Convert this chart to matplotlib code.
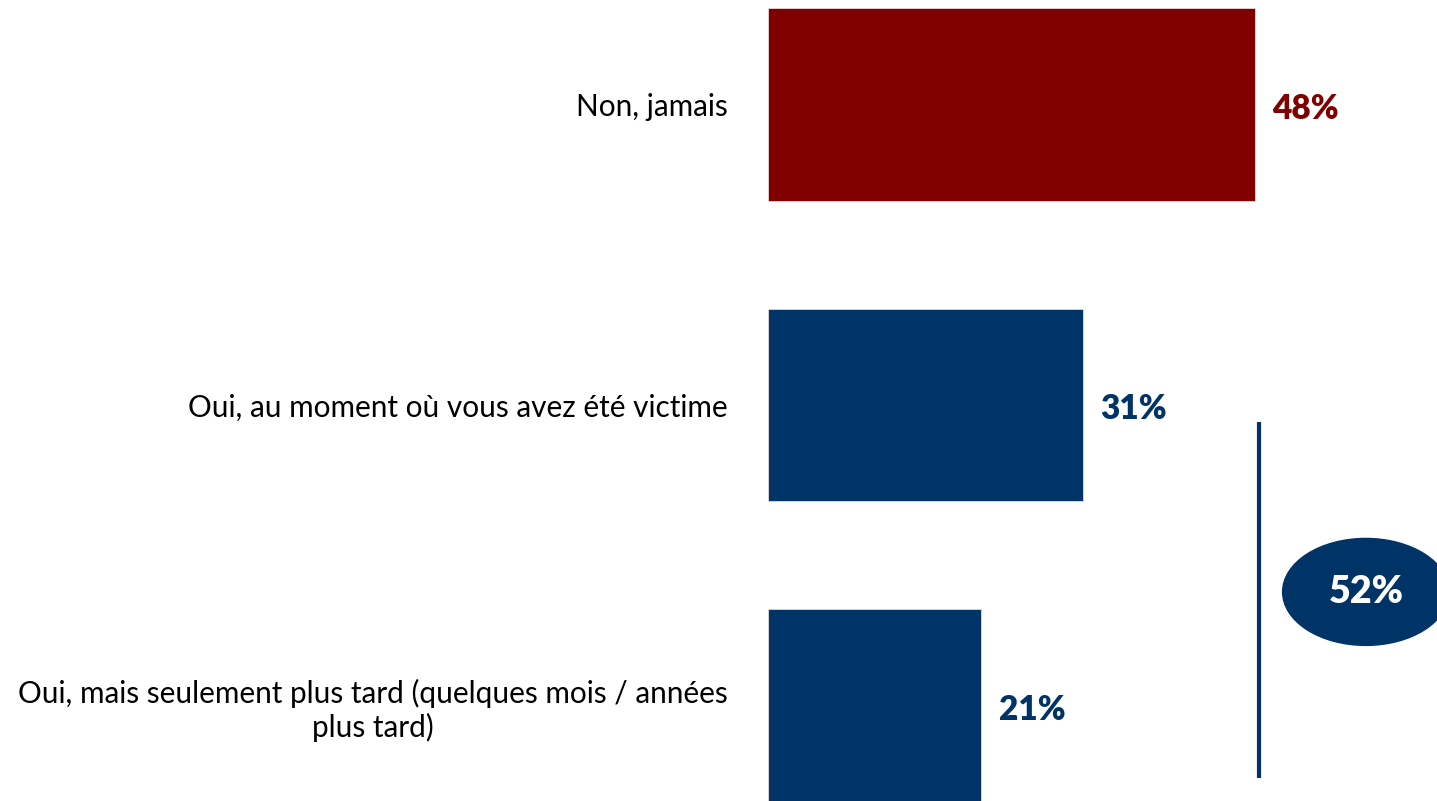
import matplotlib.pyplot as plt
from matplotlib.patches import Ellipse

categories = ['Non, jamais',
              'Oui, au moment où vous avez été victime',
              'Oui, mais seulement plus tard (quelques mois / années\nplus tard)']
values = [48, 31, 21]
colors = ['#800000', '#003366', '#003366']
total_oui = 52

plt.rcParams['font.family'] = ['Lato', 'DejaVu Sans']

fig = plt.figure(figsize=(14.37, 8.01), dpi=100)
ax = fig.add_axes([768 / 1437, 0, 669 / 1437, 1])

pos = list(range(len(categories)))
ax.barh(pos, values, height=0.642, color=colors, edgecolor='#e8d8d8', linewidth=0.6)

ax.set_xlim(0, 669 / 10.15)
ax.set_ylim((801 - 104.5) / 300.5, -104.5 / 300.5)

ax.set_yticks(pos)
ax.set_yticklabels(categories, fontsize=21.4, color='black')
for lab in ax.get_yticklabels():
    lab.set_multialignment('center')
ax.tick_params(axis='y', length=0, pad=28.8)
ax.set_xticks([])
for s in ax.spines.values():
    s.set_visible(False)

# value labels
for p, v, c in zip(pos, values, colors):
    ax.annotate(f'{v}%', (v, p), xytext=(12.5, -3), textcoords='offset points',
                va='center', ha='left', fontsize=24, fontweight='heavy', color=c)

# bracket for the "Oui" answers and total
ax.plot([48.4, 48.4], [1.057, 2.241], color='#003366', lw=3, solid_capstyle='butt')
ax.add_patch(Ellipse((58.9, 1.622), 16.4, 0.356, color='#003366', clip_on=False))
ax.text(58.9, 1.622, f'{total_oui}%', ha='center', va='center',
        fontsize=27, fontweight='heavy', color='white')

fig.savefig('out.png', dpi=100)
